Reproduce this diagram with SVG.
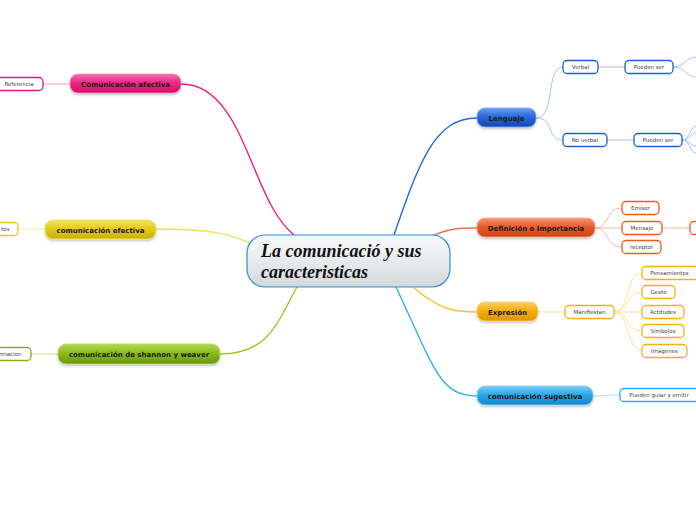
<svg xmlns="http://www.w3.org/2000/svg" width="696" height="520" viewBox="0 0 696 520">
<defs>
<linearGradient id="gC" x1="0" y1="0" x2="0" y2="1"><stop offset="0" stop-color="#f8f9fa"/><stop offset="0.6" stop-color="#e4e7e9"/><stop offset="1" stop-color="#d2d7da"/></linearGradient>
<linearGradient id="gPink" x1="0" y1="0" x2="0" y2="1"><stop offset="0" stop-color="#f870b0"/><stop offset="0.45" stop-color="#ec2a84"/><stop offset="1" stop-color="#d40c68"/></linearGradient>
<linearGradient id="gYel" x1="0" y1="0" x2="0" y2="1"><stop offset="0" stop-color="#f4e460"/><stop offset="0.45" stop-color="#e4cc1c"/><stop offset="1" stop-color="#ccae06"/></linearGradient>
<linearGradient id="gGrn" x1="0" y1="0" x2="0" y2="1"><stop offset="0" stop-color="#b0d850"/><stop offset="0.45" stop-color="#8cbc1c"/><stop offset="1" stop-color="#68980a"/></linearGradient>
<linearGradient id="gBlu" x1="0" y1="0" x2="0" y2="1"><stop offset="0" stop-color="#6aa0f0"/><stop offset="0.45" stop-color="#2a6ad8"/><stop offset="1" stop-color="#1048b0"/></linearGradient>
<linearGradient id="gOr" x1="0" y1="0" x2="0" y2="1"><stop offset="0" stop-color="#f89878"/><stop offset="0.45" stop-color="#ea5c2c"/><stop offset="1" stop-color="#d04414"/></linearGradient>
<linearGradient id="gAmb" x1="0" y1="0" x2="0" y2="1"><stop offset="0" stop-color="#fcd060"/><stop offset="0.45" stop-color="#f4ae10"/><stop offset="1" stop-color="#e09400"/></linearGradient>
<linearGradient id="gSky" x1="0" y1="0" x2="0" y2="1"><stop offset="0" stop-color="#78d0f8"/><stop offset="0.45" stop-color="#2aa8e8"/><stop offset="1" stop-color="#1088cc"/></linearGradient>
<filter id="sh" x="-10%" y="-30%" width="120%" height="170%"><feDropShadow dx="0" dy="1.5" stdDeviation="1" flood-color="#000" flood-opacity="0.25"/></filter>
</defs>
<style>
.main{font-family:"DejaVu Sans",Verdana,sans-serif;font-weight:bold;font-size:7px;fill:#1a1a1a;text-anchor:middle}
.leaf{font-family:"DejaVu Sans",Verdana,sans-serif;font-size:5.5px;fill:#444;text-anchor:middle}
.lr{fill:#fff;stroke-width:1.3}
.c{fill:none;stroke-width:1.4}
.s{fill:none;stroke-width:1}
</style>
<g id="connectors">
<path class="c" stroke="#f0207f" d="M181,84 C245,84 250,200 294,235"/>
<path class="c" stroke="#f0e060" d="M156,229 C210,229 230,234 250,243"/>
<path class="c" stroke="#9ac830" d="M220,354 C270,354 278,320 297,287"/>
<path class="c" stroke="#1a6ad8" d="M394,235 C420,160 435,118 477,118"/>
<path class="c" stroke="#f07050" d="M432,236 C450,228 460,228 477,228"/>
<path class="c" stroke="#f8c040" d="M414,288 C440,310 455,312 477,312"/>
<path class="c" stroke="#30b0f0" d="M396,287 C435,370 440,396 477,396"/>
<path class="s" stroke="#f8a0c8" d="M70,84 L43,84"/>
<path class="s" stroke="#f8f0a0" d="M45,229 L18,229"/>
<path class="s" stroke="#c8e490" d="M58,354 L31,354"/>
<path class="s" stroke="#a8c4f0" d="M536,118 C556,118 545,67 563,67 M536,118 C556,118 545,140 563,140 M598,67 L625,67 M607,140 L634,140"/>
<path class="s" stroke="#a8c4f0" d="M673,67 C685,67 686,57 696,57 M673,67 C685,67 686,77 696,77 M682,140 C690,140 690,126 696,126 M682,140 C690,140 690,133 696,133 M682,140 C690,140 690,146 696,146 M682,140 C690,140 690,153 696,153"/>
<path class="s" stroke="#f8b8a0" d="M595,228 C610,228 605,208 622,208 M595,228 L622,228 M595,228 C610,228 605,247 622,247 M662,228 L690,228"/>
<path class="s" stroke="#fde0a0" d="M538,312 L565,312 M614,312 C630,312 625,273 642,273 M614,312 C630,312 625,292 642,292 M614,312 L642,312 M614,312 C630,312 625,331 642,331 M614,312 C630,312 625,350 642,350"/>
<path class="s" stroke="#a8d8f8" d="M593,396 C605,396 608,395 620,395"/>
</g>
<g id="central">
<rect x="247" y="235" width="203" height="52" rx="18" fill="url(#gC)" stroke="#2a8fd6" stroke-width="1.2"/>
<text x="261" y="257" font-family="'Liberation Serif',serif" font-weight="bold" font-style="italic" font-size="18" fill="#111">La comunicació y sus</text>
<text x="261" y="278" font-family="'Liberation Serif',serif" font-weight="bold" font-style="italic" font-size="18" fill="#111">caracteristicas</text>
</g>
<g id="n-afectiva"><rect x="70" y="74" width="111" height="19" rx="8" fill="url(#gPink)" stroke="#f490c0" stroke-width="0.8" filter="url(#sh)"/><text class="main" x="125.5" y="86.5">Comunicación afectiva</text></g>
<g id="n-referencia"><rect class="lr" x="-10" y="77.5" width="53" height="13" rx="4" stroke="#e8167c"/><text class="leaf" x="19" y="86">Referencia</text></g>
<g id="n-efectiva"><rect x="45" y="220" width="111" height="19" rx="8" fill="url(#gYel)" stroke="#f0e070" stroke-width="0.8" filter="url(#sh)"/><text class="main" x="100.5" y="232.5">comunicación efectiva</text></g>
<g id="n-tos"><rect class="lr" x="-30" y="222.5" width="48" height="13" rx="4" stroke="#e8c818"/><text class="leaf" x="9.5" y="231" text-anchor="end" style="text-anchor:end">tos</text></g>
<g id="n-shannon"><rect x="58" y="344" width="162" height="20" rx="8" fill="url(#gGrn)" stroke="#b8dc70" stroke-width="0.8" filter="url(#sh)"/><text class="main" x="139" y="356.5">comunicación de shannon y weaver</text></g>
<g id="n-informacion"><rect class="lr" x="-20" y="347.5" width="51" height="13" rx="4" stroke="#80b010"/><text class="leaf" x="21.5" y="356" style="text-anchor:end">rmacion</text></g>
<g id="n-lenguaje"><rect x="477" y="108" width="59" height="19" rx="8" fill="url(#gBlu)" stroke="#80a8f0" stroke-width="0.8" filter="url(#sh)"/><text class="main" x="506.5" y="120.5">Lenguaje</text></g>
<g id="n-verbal"><rect class="lr" x="563" y="60.5" width="35" height="13" rx="4" stroke="#1a5fd0"/><text class="leaf" x="580.5" y="69">Verbal</text></g>
<g id="n-pueden1"><rect class="lr" x="625" y="60.5" width="48" height="13" rx="4" stroke="#1a5fd0"/><text class="leaf" x="649" y="69">Pueden ser</text></g>
<g id="n-noverbal"><rect class="lr" x="563" y="133.5" width="44" height="13" rx="4" stroke="#1a5fd0"/><text class="leaf" x="585" y="142">No verbal</text></g>
<g id="n-pueden2"><rect class="lr" x="634" y="133.5" width="48" height="13" rx="4" stroke="#1a5fd0"/><text class="leaf" x="658" y="142">Pueden ser</text></g>
<g id="n-definicion"><rect x="477" y="218" width="118" height="19" rx="8" fill="url(#gOr)" stroke="#f8a888" stroke-width="0.8" filter="url(#sh)"/><text class="main" x="536" y="230.5">Definición e Importancia</text></g>
<g id="n-emisor"><rect class="lr" x="622" y="201.5" width="37" height="13" rx="4" stroke="#f05a20"/><text class="leaf" x="640.5" y="210">Emisor</text></g>
<g id="n-mensaje"><rect class="lr" x="622" y="221.5" width="40" height="13" rx="4" stroke="#f05a20"/><text class="leaf" x="642" y="230">Mensaje</text></g>
<g id="n-receptor"><rect class="lr" x="622" y="240.5" width="39" height="13" rx="4" stroke="#f05a20"/><text class="leaf" x="641.5" y="249">receptor</text></g>
<g id="n-mensaje-child"><rect class="lr" x="690" y="221.5" width="30" height="13" rx="4" stroke="#f05a20"/></g>
<g id="n-expresion"><rect x="477" y="302" width="61" height="19" rx="8" fill="url(#gAmb)" stroke="#fcd070" stroke-width="0.8" filter="url(#sh)"/><text class="main" x="507.5" y="314.5">Expresión</text></g>
<g id="n-manifiestan"><rect class="lr" x="565" y="305.5" width="49" height="13" rx="4" stroke="#f8b010"/><text class="leaf" x="589.5" y="314">Manifiestan</text></g>
<g id="n-pensamientos"><rect class="lr" x="642" y="266.5" width="60" height="13" rx="4" stroke="#f8b010"/><text class="leaf" x="669.5" y="275">Pensamientos</text></g>
<g id="n-gesto"><rect class="lr" x="642" y="285.5" width="33" height="13" rx="4" stroke="#f8b010"/><text class="leaf" x="658.5" y="294">Gesto</text></g>
<g id="n-actitudes"><rect class="lr" x="642" y="305.5" width="42" height="13" rx="4" stroke="#f8b010"/><text class="leaf" x="663" y="314">Actitudes</text></g>
<g id="n-simbolos"><rect class="lr" x="642" y="324.5" width="42" height="13" rx="4" stroke="#f8b010"/><text class="leaf" x="663" y="333">Símbolos</text></g>
<g id="n-imagenes"><rect class="lr" x="642" y="344.5" width="45" height="13" rx="4" stroke="#f8b010"/><text class="leaf" x="664.5" y="353">Imagenes</text></g>
<g id="n-sugestiva"><rect x="477" y="386" width="116" height="19" rx="8" fill="url(#gSky)" stroke="#90d4f8" stroke-width="0.8" filter="url(#sh)"/><text class="main" x="535" y="398.5">comunicación sugestiva</text></g>
<g id="n-pueden-guiar"><rect class="lr" x="620" y="388.5" width="85" height="13" rx="4" stroke="#30a8e8"/><text class="leaf" x="659" y="397">Pueden guiar y emitir</text></g>
</svg>
